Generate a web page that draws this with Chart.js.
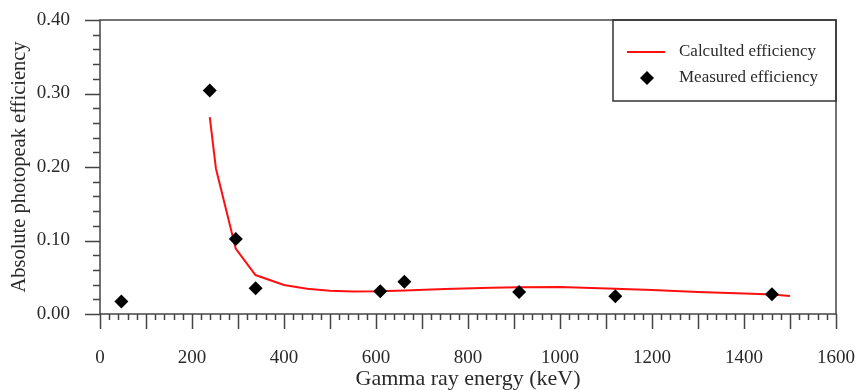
<!DOCTYPE html>
<html>
<head>
<meta charset="utf-8">
<script src="https://cdn.jsdelivr.net/npm/chart.js@4/dist/chart.umd.min.js"></script>
<style>
  body { margin: 0; background: #fff; }
  #wrap { width: 859px; height: 390px; position: relative; }
</style>
</head>
<body>
<div id="wrap"><canvas id="effChart"></canvas></div>
<script>
// measured photopeak efficiency at each gamma line (keV)
const energies = [46.5, 238.6, 295.2, 338.3, 609.3, 661.7, 911.2, 1120.3, 1460.8];
const measured = [0.017, 0.304, 0.102, 0.035, 0.031, 0.044, 0.030, 0.024, 0.027];

// calculated efficiency curve
const calcEnergy = [238.6, 252, 295, 338, 400, 450, 500, 550, 609, 662, 750, 850, 911, 1000, 1120, 1200, 1300, 1400, 1461, 1500];
const calcEff = [0.268, 0.198, 0.089, 0.053, 0.0395, 0.0345, 0.0315, 0.0305, 0.0308, 0.032, 0.034, 0.0358, 0.0365, 0.0368, 0.0345, 0.0328, 0.030, 0.0278, 0.0265, 0.0245];

const xTicks = [0, 200, 400, 600, 800, 1000, 1200, 1400, 1600];
const yTicks = [0.0, 0.1, 0.2, 0.3, 0.4];

const FONT = "'Liberation Serif', 'Times New Roman', serif";
const TEXT = '#2a2a2a';
const AXIS = '#444';

const calcPts = calcEnergy.map((e, i) => ({ x: e, y: calcEff[i] }));
const measPts = energies.map((e, i) => ({ x: e, y: measured[i] }));

// frame, minor/major tick marks and the boxed legend
const framePlugin = {
    id: 'frame',
    afterDraw(chart) {
        const c = chart.ctx;
        const a = chart.chartArea;
        const xs = chart.scales.x;
        const ys = chart.scales.y;
        c.save();
        c.strokeStyle = AXIS;
        c.lineWidth = 1.5;
        c.strokeRect(a.left, a.top, a.right - a.left, a.bottom - a.top);

        c.beginPath();
        for (let v = 0; v <= 1600; v += 20) {
            const px = Math.round(xs.getPixelForValue(v)) + 0.5;
            const len = v % 100 === 0 ? 15 : 6;
            c.moveTo(px, a.bottom);
            c.lineTo(px, a.bottom + len);
        }
        for (let k = 0; k <= 20; k++) {
            const py = Math.round(ys.getPixelForValue(k * 0.02)) + 0.5;
            const len = k % 5 === 0 ? 15 : 7;
            c.moveTo(a.left, py);
            c.lineTo(a.left - len, py);
        }
        c.stroke();

        // legend
        const lx = 613, ly = a.top, lw = a.right - 613, lh = 81;
        c.lineWidth = 1.5;
        c.strokeStyle = '#333';
        c.strokeRect(lx, ly, lw, lh);
        const ds = chart.data.datasets;
        c.font = '17px ' + FONT;
        c.fillStyle = TEXT;
        c.textBaseline = 'middle';
        c.textAlign = 'left';

        c.strokeStyle = ds[0].borderColor;
        c.lineWidth = ds[0].borderWidth;
        c.beginPath();
        c.moveTo(627, ly + 32);
        c.lineTo(665, ly + 32);
        c.stroke();
        c.fillText(ds[0].label, 679, ly + 32);

        c.fillStyle = ds[1].backgroundColor;
        c.beginPath();
        c.moveTo(647, ly + 58 - 7);
        c.lineTo(647 + 7, ly + 58);
        c.lineTo(647, ly + 58 + 7);
        c.lineTo(647 - 7, ly + 58);
        c.closePath();
        c.fill();
        c.fillStyle = TEXT;
        c.fillText(ds[1].label, 679, ly + 58);
        c.restore();
    }
};

new Chart(document.getElementById('effChart'), {
    type: 'scatter',
    data: {
        datasets: [
            {
                label: 'Calculted efficiency',
                data: calcPts,
                showLine: true,
                borderColor: '#ff1010',
                borderWidth: 2,
                pointRadius: 0,
                tension: 0,
                order: 2
            },
            {
                label: 'Measured efficiency',
                data: measPts,
                pointStyle: 'rectRot',
                pointRadius: 7,
                backgroundColor: '#000',
                borderColor: '#000',
                borderWidth: 0,
                order: 1
            }
        ]
    },
    options: {
        responsive: true,
        maintainAspectRatio: false,
        animation: false,
        layout: { padding: { top: 20, right: 23, left: 0, bottom: 0 } },
        plugins: {
            legend: { display: false },
            tooltip: { enabled: false }
        },
        scales: {
            x: {
                type: 'linear',
                min: 0,
                max: 1600,
                afterFit: s => { s.height = 76; s.paddingLeft = 0; s.paddingRight = 0; },
                afterBuildTicks: s => { s.ticks = xTicks.map(v => ({ value: v })); },
                grid: { display: false, drawTicks: false },
                border: { display: false },
                ticks: {
                    padding: 33,
                    color: TEXT,
                    font: { family: FONT, size: 19 },
                    maxRotation: 0,
                    callback: v => String(v)
                },
                title: {
                    display: true,
                    text: 'Gamma ray energy (keV)',
                    color: TEXT,
                    font: { family: FONT, size: 22, lineHeight: 1 },
                    padding: { top: 0, bottom: 0 }
                }
            },
            y: {
                type: 'linear',
                min: 0,
                max: 0.4,
                afterFit: s => { s.width = 100; s.paddingTop = 0; s.paddingBottom = 0; },
                afterBuildTicks: s => { s.ticks = yTicks.map(v => ({ value: v })); },
                grid: { display: false, drawTicks: false },
                border: { display: false },
                ticks: {
                    padding: 30,
                    color: TEXT,
                    font: { family: FONT, size: 19 },
                    callback: v => Number(v).toFixed(2)
                },
                title: {
                    display: true,
                    text: 'Absolute photopeak efficiency',
                    color: TEXT,
                    font: { family: FONT, size: 20.5, lineHeight: 1 },
                    padding: { top: 9, bottom: 0 }
                }
            }
        }
    },
    plugins: [framePlugin]
});
</script>
</body>
</html>
